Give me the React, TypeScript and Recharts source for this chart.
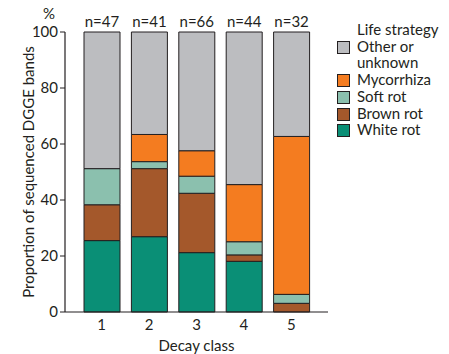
import { Bar, BarChart, LabelList, XAxis, YAxis } from "recharts";

const categories = ["1", "2", "3", "4", "5"];
const nCounts = [47, 41, 66, 44, 32];
const whiteRot = [25.5, 26.9, 21.2, 18.1, 0];
const brownRot = [12.8, 24.3, 21.2, 2.3, 3.1];
const softRot = [12.9, 2.5, 6.1, 4.7, 3.2];
const mycorrhiza = [0, 9.7, 9.1, 20.4, 56.4];
const other = [48.8, 36.6, 42.4, 54.5, 37.3];
const yTicks = [0, 20, 40, 60, 80, 100];

const FONT = "Lato, 'Open Sans', sans-serif";
const INK = "#231f20";

const SERIES = [
  { key: "white", name: "White rot", color: "#0a8f76", values: whiteRot },
  { key: "brown", name: "Brown rot", color: "#a4582b", values: brownRot },
  { key: "soft", name: "Soft rot", color: "#8bc0ae", values: softRot },
  { key: "myco", name: "Mycorrhiza", color: "#f47c20", values: mycorrhiza },
  { key: "other", name: "Other or unknown", color: "#bcbdc0", values: other },
];

const data = categories.map((c, i) => {
  const row: Record<string, string | number> = { cls: c, n: `n=${nCounts[i]}` };
  SERIES.forEach((s) => (row[s.key] = s.values[i]));
  return row;
});

function LegendBox() {
  const items = [...SERIES].reverse();
  return (
    <div style={{ position: "absolute", left: 337, top: 21, fontFamily: FONT, fontSize: 15, color: INK, lineHeight: "16.7px" }}>
      <div style={{ marginLeft: 20 }}>Life strategy</div>
      {items.map((s) => (
        <div key={s.key} style={{ display: "flex", alignItems: "flex-start" }}>
          <span
            style={{
              width: 11,
              height: 11,
              background: s.color,
              border: `1px solid ${INK}`,
              marginTop: 3,
              marginRight: 7,
              flex: "none",
            }}
          />
          <span style={{ width: 90 }}>{s.key === "other" ? <>Other or<br />unknown</> : s.name}</span>
        </div>
      ))}
    </div>
  );
}

export default function App() {
  return (
    <div style={{ position: "absolute", left: 0, top: 0, width: 449, height: 354, background: "#fff" }}>
      <BarChart
        width={449}
        height={354}
        data={data}
        margin={{ top: 32, right: 121, left: 0, bottom: 2 }}
        barSize={36}
        style={{ fontFamily: FONT }}
      >
        <XAxis
          dataKey="cls"
          padding={{ left: 13, right: 13 }}
          height={40}
          tickLine={false}
          axisLine={{ stroke: INK, strokeWidth: 1.2 }}
          tick={{ fill: INK, fontSize: 15 }}
          tickMargin={1}
          label={{ value: "Decay class", position: "insideBottom", offset: 1, fill: INK, fontSize: 15 }}
        />
        <XAxis
          xAxisId="top"
          orientation="top"
          dataKey="cls"
          height={0}
          tick={false}
          tickLine={false}
          axisLine={{ stroke: INK, strokeWidth: 1.2 }}
        />
        <YAxis
          domain={[0, 100]}
          ticks={yTicks}
          width={65}
          tickSize={5}
          tickMargin={2}
          interval={0}
          axisLine={{ stroke: INK, strokeWidth: 1.2 }}
          tickLine={{ stroke: INK }}
          tick={{ fill: INK, fontSize: 15 }}
          label={{
            value: "Proportion of sequenced DGGE bands",
            angle: -90,
            position: "center",
            dx: -4,
            fill: INK,
            fontSize: 15,
          }}
        />
        <YAxis
          yAxisId="right"
          orientation="right"
          width={0}
          tick={false}
          tickLine={false}
          axisLine={{ stroke: INK, strokeWidth: 1.2 }}
        />
        {SERIES.map((s, i) => (
          <Bar
            key={s.key}
            dataKey={s.key}
            name={s.name}
            stackId="a"
            fill={s.color}
            stroke={INK}
            strokeWidth={1}
            isAnimationActive={false}
          >
            {i === SERIES.length - 1 && (
              <LabelList dataKey="n" position="top" offset={5} fill={INK} fontSize={15} />
            )}
          </Bar>
        ))}
      </BarChart>
      <div style={{ position: "absolute", left: 43, top: 4, fontFamily: FONT, fontSize: 15, color: INK }}>%</div>
      <LegendBox />
    </div>
  );
}
